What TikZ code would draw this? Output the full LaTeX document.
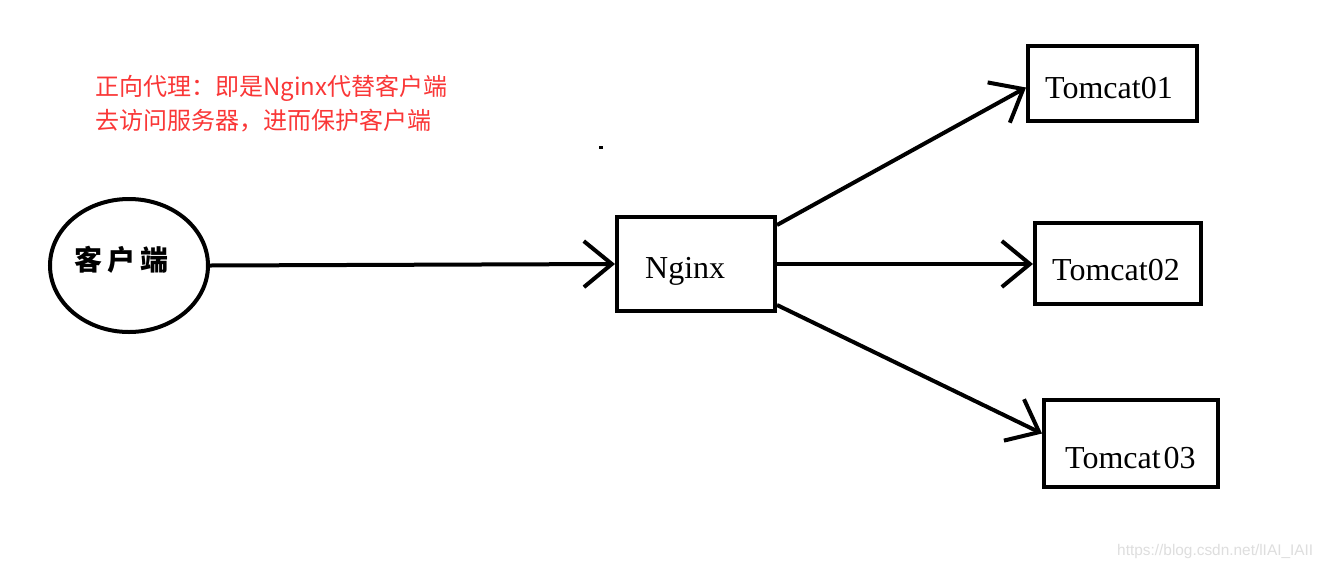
\documentclass[tikz,border=0pt]{standalone}
\usepackage{fontspec}
\setmainfont{Liberation Serif}
\newfontfamily\cjk{Noto Sans CJK SC}
\newfontfamily\wmfont{Liberation Sans}
\usetikzlibrary{arrows.meta,shapes.geometric,calc}
\definecolor{notered}{RGB}{250,55,55}
\definecolor{wmgray}{RGB}{222,222,222}
\begin{document}
\begin{tikzpicture}[x=1pt,y=-1pt,
  box/.style={draw,line width=4pt,rectangle,inner sep=0pt},
  conn/.style={line width=4pt,-{Straight Barb[length=28pt,width=46pt]}},
  lbl/.style={font=\fontsize{32}{32}\selectfont,inner sep=0pt,anchor=base west},
  note/.style={font=\cjk\fontsize{24}{24}\selectfont,text=notered,inner sep=0pt,anchor=west}]
\fill[white] (0,0) rectangle (1325,571);
\useasboundingbox (0,0) rectangle (1325,571);

% client ellipse
\node[ellipse,draw,line width=4pt,minimum width=158pt,minimum height=133pt,inner sep=0pt] (client) at (129,265.5) {};
\node[font=\cjk\bfseries\fontsize{28}{28}\selectfont,inner sep=0pt] (clienttext) at (121.5,260) {客\hspace{5pt}户\hspace{5pt}端};

% boxes
\node[box,minimum width=158pt,minimum height=94pt] (nginx) at (696,264) {};
\node[box,minimum width=169pt,minimum height=75pt] (t1) at (1112.5,83.5) {};
\node[box,minimum width=166pt,minimum height=81pt] (t2) at (1118,263.5) {};
\node[box,minimum width=174pt,minimum height=87pt] (t3) at (1131,443.5) {};

% labels
\node[lbl] (nginxtext) at (645,278) {Nginx};
\node[lbl] (t1text) at (1045,98) {Tomcat01};
\node[lbl] (t2text) at (1052,280) {Tomcat02};
\node[lbl] (t3text) at (1065,468) {Tomcat\hspace{3pt}03};

% note
\node[note] (note1) at (95,88) {正向代理：即是Nginx代替客户端};
\node[note] (note2) at (95,121) {去访问服务器，进而保护客户端};

% connectors
\draw[conn] (client.east) -- (nginx.west);
\coordinate (s1) at ($(nginx.north east)+(0,10)$);
\coordinate (e1) at ($(t1.west)+(0,4)$);
\draw[conn] (s1) -- (e1);
\draw[conn] (nginx.east) -- (nginx.east -| t2.west);
\coordinate (s3) at ($(nginx.south east)+(0,-8)$);
\coordinate (e3) at ($(t3.west)+(0,-10)$);
\draw[conn] (s3) -- (e3);

% stray dot
\fill (599,146) rectangle (603,148.5);

% watermark
\node[font=\wmfont\fontsize{15.4}{15.4}\selectfont,text=wmgray,inner sep=0pt,anchor=base west] (wm) at (1117,555) {https://blog.csdn.net/lIAI\_IAII};
\end{tikzpicture}
\end{document}
